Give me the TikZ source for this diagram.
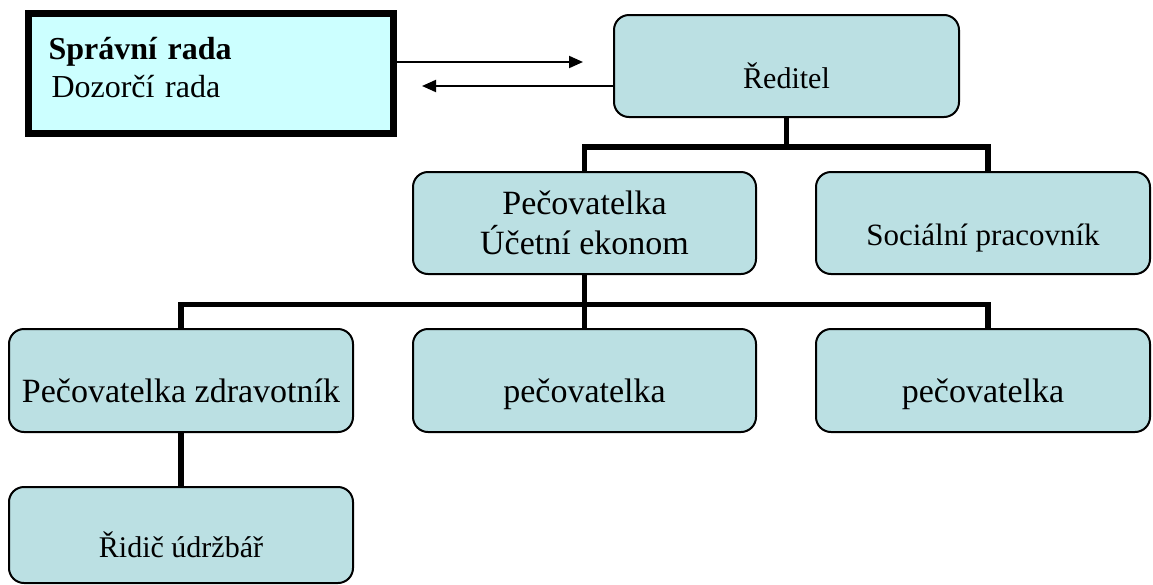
\documentclass[tikz,border=0pt]{standalone}
\usepackage{fontspec}
\setmainfont{Liberation Serif}
\usetikzlibrary{arrows.meta}
\definecolor{boxfill}{HTML}{BBE0E3}
\definecolor{radafill}{HTML}{CCFFFF}

\begin{document}
\begin{tikzpicture}[x=1pt,y=-1pt,
    orgbox/.style={draw,line width=2pt,rounded corners=15pt,fill=boxfill,inner sep=0pt,align=center},
    lowtext/.style={text height=44pt,text depth=0pt},
    conn/.style={line width=5.5pt},
    arr/.style={line width=2pt,-{Triangle[length=14pt,width=12pt]}}]
  \useasboundingbox (0,0) rectangle (1153,584);
  % boards
  \node[draw,line width=7pt,fill=radafill,minimum width=365pt,minimum height=120pt,
    text width=325pt,align=left,inner sep=0pt,font=\fontsize{32}{38}\selectfont]
    (rada) at (211,73.5) {\textbf{Správní rada}\\\hspace{3pt}Dozorčí rada\\[-26pt]\mbox{}};
  % org chart
  \node[orgbox,lowtext,minimum width=345pt,minimum height=102pt,font=\fontsize{30}{36}\selectfont]
    (reditel) at (786.5,66) {Ředitel};
  \node[orgbox,minimum width=343pt,minimum height=102pt,font=\fontsize{34}{40}\selectfont]
    (pecucet) at (584.5,223) {Pečovatelka\\Účetní ekonom};
  \node[orgbox,lowtext,minimum width=334pt,minimum height=102pt,font=\fontsize{31}{37}\selectfont]
    (socialni) at (983,223) {Sociální pracovník};
  \node[orgbox,lowtext,minimum width=344pt,minimum height=103pt,font=\fontsize{34}{40}\selectfont]
    (zdrav) at (181,380.5) {Pečovatelka zdravotník};
  \node[orgbox,lowtext,minimum width=343pt,minimum height=103pt,font=\fontsize{34}{40}\selectfont]
    (pec1) at (584.5,380.5) {pečovatelka};
  \node[orgbox,lowtext,minimum width=334pt,minimum height=103pt,font=\fontsize{34}{40}\selectfont]
    (pec2) at (983,380.5) {pečovatelka};
  \node[orgbox,lowtext,minimum width=344pt,minimum height=96pt,font=\fontsize{30}{36}\selectfont]
    (ridic) at (181,535) {Řidič údržbář};
  % arrows
  \draw[arr] ([yshift=11.5pt]rada.east) -- ([xshift=-30pt,yshift=4pt]reditel.west);
  \draw[arr] ([yshift=-20pt]reditel.west) -- ([xshift=25pt,yshift=-12.5pt]rada.east);
  % tree lines
  \coordinate (j1) at (786.5,147);
  \coordinate (j2) at (584.5,304.5);
  \draw[conn] (reditel.south) -- (j1);
  \draw[conn] (pecucet.north) |- (j1) -| ([xshift=5pt]socialni.north);
  \draw[conn] (pecucet.south) -- (pec1.north);
  \draw[conn] (zdrav.north) |- (j2) -| ([xshift=5pt]pec2.north);
  \draw[conn] (zdrav.south) -- (ridic.north);
\end{tikzpicture}
\end{document}
